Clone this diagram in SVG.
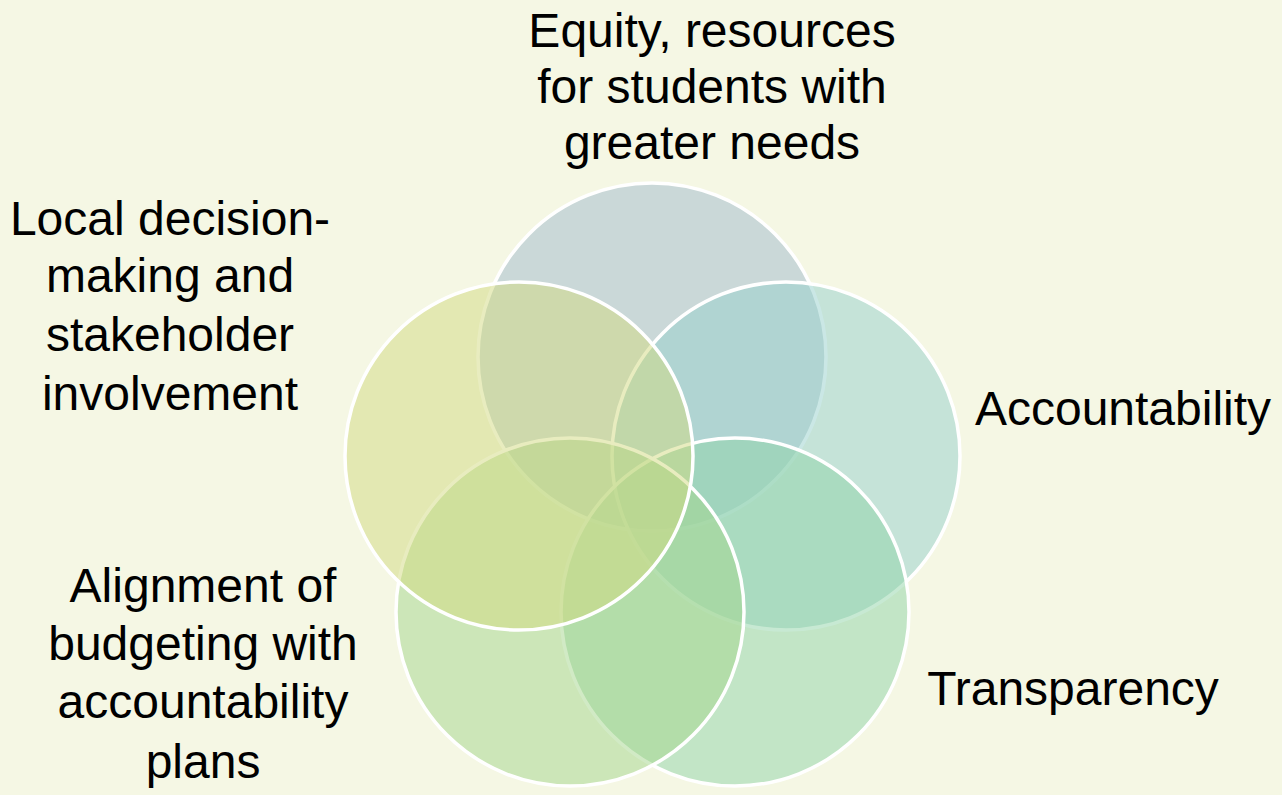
<svg xmlns="http://www.w3.org/2000/svg" width="1282" height="795" viewBox="0 0 1282 795">
<style>
.c{stroke:#ffffff;stroke-width:3.5;fill-opacity:0.5}
.t{font-family:"Liberation Sans",Arial,sans-serif;font-size:48px;fill:#000000;text-anchor:middle}
</style>
<rect width="1282" height="795" fill="#F5F7E4"/>
<g id="node-equity"><circle class="c" cx="652" cy="357" r="174" fill="#9FB9CC"/></g>
<g id="node-accountability"><circle class="c" cx="786" cy="456" r="174" fill="#95CFCC"/></g>
<g id="node-transparency"><circle class="c" cx="735" cy="612" r="174" fill="#8FD3A8"/></g>
<g id="node-alignment"><circle class="c" cx="570" cy="612" r="174" fill="#A3D58C"/></g>
<g id="node-local"><circle class="c" cx="519" cy="456" r="174" fill="#D1D980"/></g>
<g id="connectors"></g>
<g id="labels">
<text class="t" x="712" y="47">Equity, resources</text>
<text class="t" x="712" y="103">for students with</text>
<text class="t" x="712" y="159">greater needs</text>
<text class="t" x="1123" y="425">Accountability</text>
<text class="t" x="1073" y="705">Transparency</text>
<text class="t" x="203" y="602">Alignment of</text>
<text class="t" x="203" y="660">budgeting with</text>
<text class="t" x="203" y="718">accountability</text>
<text class="t" x="203" y="778">plans</text>
<text class="t" x="170" y="235">Local decision-</text>
<text class="t" x="170" y="292">making and</text>
<text class="t" x="170" y="351">stakeholder</text>
<text class="t" x="170" y="410">involvement</text>
</g>
</svg>
